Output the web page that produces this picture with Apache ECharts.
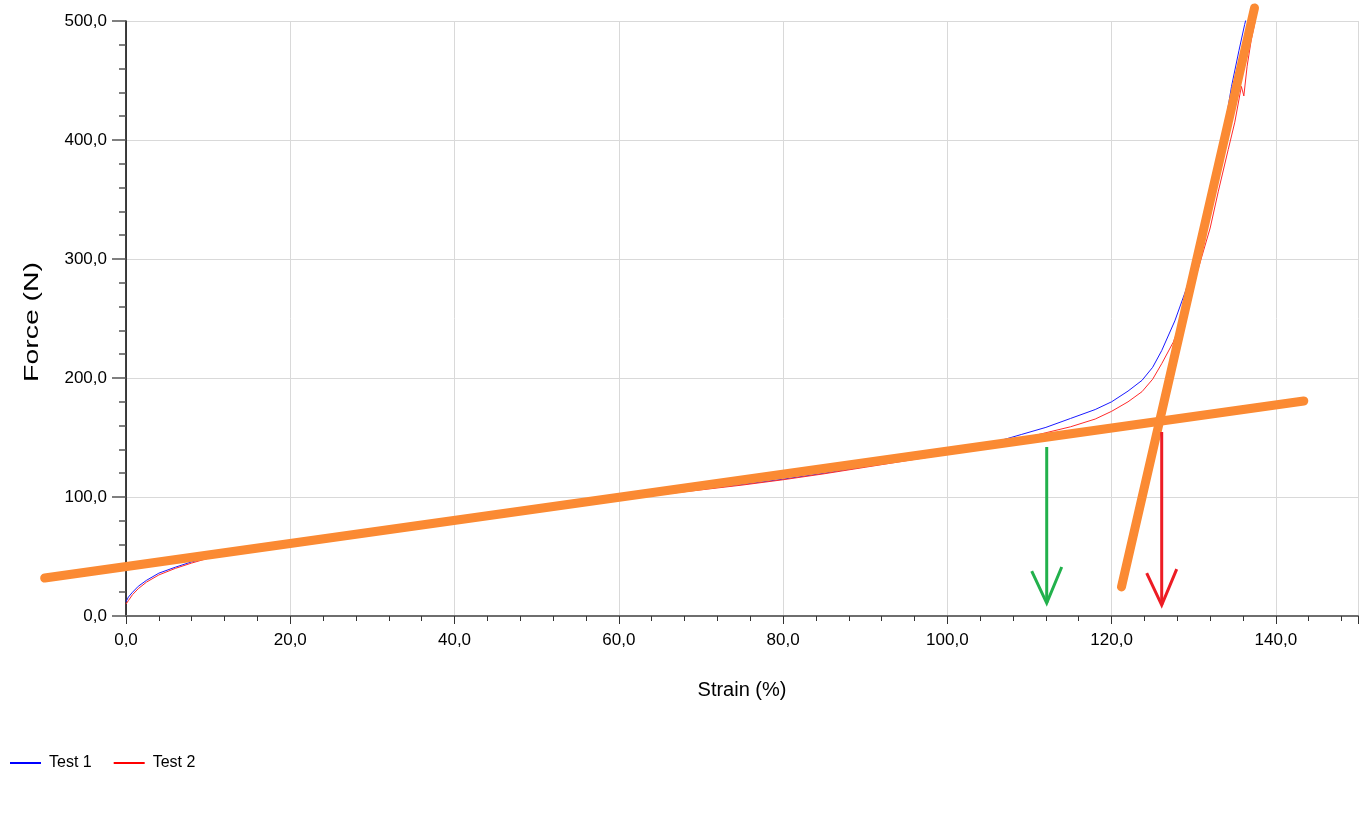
<!DOCTYPE html>
<html>
<head>
<meta charset="utf-8">
<script src="https://cdn.jsdelivr.net/npm/echarts@6/dist/echarts.min.js"></script>
<style>
html,body{margin:0;padding:0;background:#fff;}
#chart{width:1370px;height:831px;}
</style>
</head>
<body>
<div id="chart"></div>
<script>
// ---- data ----
var test1Strain = [0, 0.3, 0.8, 1.5, 2.5, 4, 6, 8, 10, 13, 16, 20, 25, 30, 35, 40, 45, 50, 55, 60, 65, 70, 75, 80, 85, 90, 95, 100, 103, 106, 109, 112, 115, 118, 120, 122, 123.7, 125, 126.1, 127.7, 129, 130, 131, 132, 133.4, 134.6, 135.5, 136.2, 136.6];
var test1Force  = [12, 16, 20, 25, 30, 36, 41, 45.5, 49, 53, 56.5, 60.5, 65, 70, 74.8, 79.5, 84.2, 89, 93.8, 98.5, 102.5, 106.5, 110.5, 115, 120, 125.5, 131, 137, 141.5, 146.5, 152.5, 158.5, 166, 173.5, 180, 189, 198, 209, 223, 248, 273, 295, 320, 345, 395, 445, 475, 497, 508];
var test2Strain = [0, 0.3, 0.8, 1.5, 2.5, 4, 6, 8, 10, 13, 16, 20, 25, 30, 35, 40, 45, 50, 55, 60, 65, 70, 75, 80, 85, 90, 95, 100, 103, 106, 109, 112, 115, 118, 120, 122, 123.7, 125, 126.1, 127.5, 129, 130.6, 132, 133, 134.2, 135, 135.8, 136.1, 136.5, 137, 137.7];
var test2Force  = [10, 13, 18, 23, 28.5, 34.5, 40, 44.5, 48.5, 52.5, 56, 60, 64.5, 69.5, 74.3, 79, 83.7, 88.5, 93.3, 98, 102, 106, 110, 114.5, 119.5, 125, 130.5, 136, 140, 144, 149, 154, 159, 165.5, 172, 180, 188.5, 199, 212, 230, 257, 293, 326, 357, 392, 415, 445, 437, 462, 484, 507];
// fitted tangent lines: [start, end]
var fitLowStrain  = [-9.9, 143.4];
var fitLowForce   = [31.9, 180.7];
var fitHighStrain = [121.2, 137.4];
var fitHighForce  = [24.4, 511];
// arrows
var arrowStrain = [112.1, 126.1];
var arrowTop    = [142, 154.6];
var arrowBottom = [10.9, 9.2];
var arrowColors = ['#22B14C', '#ED1C24'];
var seriesNames = ['Test 1', 'Test 2'];
var xAxisTitle = 'Strain (%)';
var yAxisTitle = 'Force (N)';

function pairs(xs, ys) { return xs.map(function (x, i) { return [x, ys[i]]; }); }
function fmt(v) { return v.toFixed(1).replace('.', ','); }

var sans = "'Liberation Sans',Arial,sans-serif";

var chart = echarts.init(document.getElementById('chart'), null, {renderer: 'canvas'});
var option = {
  animation: false,
  backgroundColor: '#ffffff',
  grid: {left: 126, right: 12, top: 21, bottom: 215, containLabel: false},
  legend: {
    left: 5, top: 750, itemWidth: 31, itemHeight: 14, itemGap: 22,
    icon: 'path://M0,6 L31,6 L31,8 L0,8 Z',
    textStyle: {fontFamily: sans, fontSize: 16, color: '#000', padding: [0, 0, 0, 3]},
    data: seriesNames
  },
  graphic: [{
    type: 'text', left: 22, top: 262,
    rotation: Math.PI / 2,
    style: {text: yAxisTitle, font: '20px "Liberation Sans", Arial, sans-serif', fill: '#000', align: 'center', verticalAlign: 'middle'},
    scaleX: 1.42
  }],
  xAxis: {
    type: 'value', min: 0, max: 150, interval: 20,
    name: xAxisTitle, nameLocation: 'middle', nameGap: 64,
    nameTextStyle: {fontFamily: sans, fontSize: 20, color: '#000'},
    axisLine: {show: true, onZero: false, lineStyle: {color: '#6e6e6e', width: 2}},
    axisTick: {show: true, length: 8, lineStyle: {color: '#333', width: 1}},
    minorTick: {show: true, splitNumber: 5, length: 5, lineStyle: {color: '#333', width: 1}},
    axisLabel: {margin: 16, fontFamily: sans, fontSize: 17, color: '#000', formatter: fmt, showMaxLabel: false},
    splitLine: {show: true, lineStyle: {color: '#d9d9d9', width: 1}},
    minorSplitLine: {show: false}
  },
  yAxis: {
    type: 'value', min: 0, max: 500, interval: 100,
    axisLine: {show: true, onZero: false, lineStyle: {color: '#000', width: 1.5}},
    axisTick: {show: true, length: 14, lineStyle: {color: '#555', width: 1.5}},
    minorTick: {show: true, splitNumber: 5, length: 7, lineStyle: {color: '#555', width: 1.5}},
    axisLabel: {margin: 19, fontFamily: sans, fontSize: 17, color: '#000', formatter: fmt},
    splitLine: {show: true, lineStyle: {color: '#d9d9d9', width: 1}}
  },
  series: [
    {name: seriesNames[0], type: 'line', data: pairs(test1Strain, test1Force), symbol: 'none', lineStyle: {color: '#1a1aff', width: 1}, itemStyle: {color: '#0000ff'}, z: 2},
    {name: seriesNames[1], type: 'line', data: pairs(test2Strain, test2Force), symbol: 'none', lineStyle: {color: '#ff2a2a', width: 1}, itemStyle: {color: '#ff0000'}, z: 2},
    {
      type: 'custom', z: 3, clip: false, silent: true,
      encode: {x: [0, 2], y: [1, 3]},
      data: [
        [fitLowStrain[0], fitLowForce[0], fitLowStrain[1], fitLowForce[1]],
        [fitHighStrain[0], fitHighForce[0], fitHighStrain[1], fitHighForce[1]]
      ],
      renderItem: function (params, api) {
        var a = api.coord([api.value(0), api.value(1)]);
        var b = api.coord([api.value(2), api.value(3)]);
        return {type: 'line', shape: {x1: a[0], y1: a[1], x2: b[0], y2: b[1]},
                style: {stroke: '#FB8A33', lineWidth: 9, lineCap: 'round'}};
      }
    },
    {
      type: 'custom', z: 5, clip: false, silent: true,
      encode: {x: 0, y: [1, 2]},
      data: arrowStrain.map(function (x, i) { return [x, arrowTop[i], arrowBottom[i], i]; }),
      renderItem: function (params, api) {
        var x = api.value(0), top = api.value(1), bot = api.value(2), idx = api.value(3);
        var p1 = api.coord([x, top]), p2 = api.coord([x, bot]);
        var c = arrowColors[idx];
        return {
          type: 'group',
          children: [
            {type: 'line', shape: {x1: p1[0], y1: p1[1], x2: p2[0], y2: p2[1]}, style: {stroke: c, lineWidth: 3}},
            {type: 'polyline', shape: {points: [[p2[0] - 15, p2[1] - 32], [p2[0], p2[1]], [p2[0] + 15, p2[1] - 36]]}, style: {stroke: c, lineWidth: 3, fill: null}}
          ]
        };
      }
    }
  ]
};
chart.setOption(option);
</script>
</body>
</html>
